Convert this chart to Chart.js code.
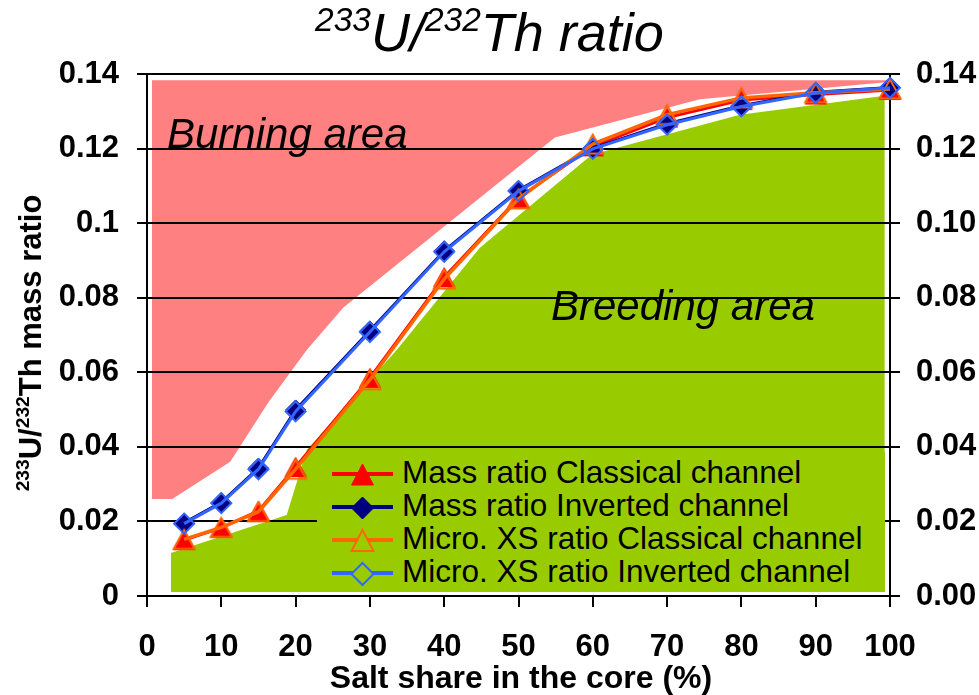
<!DOCTYPE html>
<html>
<head>
<meta charset="utf-8">
<script src="https://cdn.jsdelivr.net/npm/chart.js@4/dist/chart.umd.min.js"></script>
<style>
  html, body { margin: 0; padding: 0; background: #fff; }
  #wrap { position: relative; width: 979px; height: 695px; font-family: "Liberation Sans", Arial, sans-serif; color: #000; }
  #c { position: absolute; left: 0; top: 0; }
  .sup { font-size: 0.62em; position: relative; top: -0.6em; line-height: 0; }
  #title { position: absolute; left: 0; top: 5px; width: 979px; text-align: center; font-size: 54px; line-height: 54px; font-style: italic; white-space: nowrap; }
  #ytitle { position: absolute; left: -169px; top: 325px; width: 400px; height: 36px; line-height: 36px; text-align: center; font-size: 31px; font-weight: bold; transform: rotate(-90deg); white-space: nowrap; }
  #xtitle { position: absolute; left: 0; top: 662px; width: 1042px; text-align: center; font-size: 32px; line-height: 31px; font-weight: bold; white-space: nowrap; }
  .area { position: absolute; font-size: 42px; line-height: 42px; font-style: italic; white-space: nowrap; }
  #legend { position: absolute; left: 317px; top: 452px; width: 568px; height: 140px; background: #99CC00; }
  .row { position: absolute; left: 0; height: 33px; width: 568px; }
  .row svg { position: absolute; left: 15px; top: 0; }
  .row span { position: absolute; left: 85px; top: 0; font-size: 31.5px; line-height: 33px; white-space: nowrap; }
</style>
</head>
<body>
<div id="wrap">
  <canvas id="c" width="979" height="695"></canvas>
  <div id="title"><span class="sup">233</span>U/<span class="sup">232</span>Th ratio</div>
  <div id="ytitle"><span class="sup">233</span>U/<span class="sup">232</span>Th mass ratio</div>
  <div id="xtitle">Salt share in the core (%)</div>
  <div class="area" style="left:167px; top:113px;">Burning area</div>
  <div class="area" style="left:551px; top:285px;">Breeding area</div>
  <div id="legend"></div>
</div>
<script>
// Salt share in the core (%)
const salt = [5, 10, 15, 20, 30, 40, 50, 60, 70, 80, 90, 100];

// 233U/232Th mass ratio, classical and inverted channel
const massClassical = [0.0150, 0.0183, 0.0228, 0.0346, 0.0585, 0.0855, 0.1068, 0.1206, 0.1283, 0.1330, 0.1345, 0.1357];
const massInverted  = [0.0196, 0.0251, 0.0343, 0.0499, 0.0711, 0.0926, 0.1088, 0.1201, 0.1267, 0.1315, 0.1351, 0.1364];

// ratio derived from microscopic cross sections
const xsClassical = [0.0152, 0.0184, 0.0226, 0.0340, 0.0580, 0.0850, 0.1065, 0.1212, 0.1291, 0.1336, 0.1350, 0.1360];
const xsInverted  = [0.0194, 0.0249, 0.0340, 0.0495, 0.0708, 0.0923, 0.1086, 0.1199, 0.1264, 0.1313, 0.1349, 0.1363];

// burning region: lower edge, filled up to burningTop
const burningEdgeX = [0.67, 3.4, 11.2, 16.3, 21.5, 26.4, 54.9, 74.4, 99.1, 100];
const burningEdgeY = [0.0260, 0.0260, 0.0360, 0.0518, 0.0660, 0.0773, 0.1230, 0.1332, 0.1377, 0.1381];
const burningTop = 0.1383;

// breeding region: upper edge, filled down to breedingFloor
const breedingEdgeX = [3.2, 18.8, 21.5, 33.6, 44.8, 59.9, 79.8, 99.3];
const breedingEdgeY = [0.0115, 0.0217, 0.0392, 0.0660, 0.0934, 0.1184, 0.1291, 0.1342];
const breedingFloor = 0.0011;

// axes
const xTickValues = [0, 10, 20, 30, 40, 50, 60, 70, 80, 90, 100];
const yTickValues = [0, 0.02, 0.04, 0.06, 0.08, 0.10, 0.12, 0.14];
const leftTickLabels  = ['0', '0.02', '0.04', '0.06', '0.08', '0.1', '0.12', '0.14'];
const rightTickLabels = ['0.00', '0.02', '0.04', '0.06', '0.08', '0.10', '0.12', '0.14'];

const seriesNames = [
  'Mass ratio Classical channel',
  'Mass ratio Inverted channel',
  'Micro. XS ratio Classical channel',
  'Micro. XS ratio Inverted channel'
];

const RED = '#FF0000', NAVY = '#000080', ORANGE = '#FF6600', BLUE = '#3366FF';
const PINK = '#FF8080', GREEN = '#99CC00';
const FONT = '"Liberation Sans", Arial, sans-serif';

// triangle marker whose bounding box is centred on the data point
function triangleMarker(fill, stroke, lw) {
  const cv = document.createElement('canvas');
  cv.width = 26; cv.height = 24;
  const g = cv.getContext('2d');
  g.beginPath();
  g.moveTo(13, 2.5);
  g.lineTo(2.5, 21.5);
  g.lineTo(23.5, 21.5);
  g.closePath();
  g.lineJoin = 'miter';
  if (fill) { g.fillStyle = fill; g.fill(); }
  g.lineWidth = lw; g.strokeStyle = stroke; g.stroke();
  return cv;
}

const pts = (xs, ys) => xs.map((x, i) => ({ x: x, y: ys[i] }));

const datasets = [
  {
    label: 'burning', data: pts(burningEdgeX, burningEdgeY),
    borderWidth: 0, borderColor: 'rgba(0,0,0,0)', backgroundColor: PINK,
    pointRadius: 0, fill: { value: burningTop }, order: 10
  },
  {
    label: 'breeding', data: pts(breedingEdgeX, breedingEdgeY),
    borderWidth: 0, borderColor: 'rgba(0,0,0,0)', backgroundColor: GREEN,
    pointRadius: 0, fill: { value: breedingFloor }, order: 11
  },
  {
    label: seriesNames[0], data: pts(salt, massClassical),
    borderColor: RED, borderWidth: 3, fill: false, clip: false,
    pointStyle: triangleMarker(RED, RED, 1), pointRadius: 12, order: 4
  },
  {
    label: seriesNames[1], data: pts(salt, massInverted),
    borderColor: NAVY, borderWidth: 3, fill: false, clip: false,
    pointStyle: 'rectRot', pointRadius: 10, pointBackgroundColor: NAVY,
    pointBorderColor: NAVY, pointBorderWidth: 1, order: 3
  },
  {
    label: seriesNames[2], data: pts(salt, xsClassical),
    borderColor: ORANGE, borderWidth: 3.5, fill: false, clip: false,
    pointStyle: triangleMarker(null, ORANGE, 2), pointRadius: 12, order: 2
  },
  {
    label: seriesNames[3], data: pts(salt, xsInverted),
    borderColor: BLUE, borderWidth: 3, fill: false, clip: false,
    pointStyle: 'rectRot', pointRadius: 10, pointBackgroundColor: 'rgba(0,0,0,0)',
    pointBorderColor: BLUE, pointBorderWidth: 2, order: 1
  }
];

const tickFont = { family: FONT, size: 31, weight: 'bold' };

new Chart(document.getElementById('c'), {
  type: 'line',
  data: { datasets: datasets },
  options: {
    responsive: false,
    animation: false,
    devicePixelRatio: 1,
    layout: { padding: { top: 74, left: 0, right: 0, bottom: 0 } },
    elements: { line: { tension: 0 } },
    plugins: {
      legend: { display: false },
      title: { display: false },
      tooltip: { enabled: false },
      filler: { drawTime: 'beforeDraw' }
    },
    scales: {
      x: {
        type: 'linear', min: 0, max: 100,
        afterBuildTicks: s => { s.ticks = xTickValues.map(v => ({ value: v })); },
        afterFit: s => { s.height = 99; },
        ticks: { font: tickFont, color: '#000', padding: 22, maxRotation: 0, autoSkip: false,
                 callback: (v, i) => String(xTickValues[i]) },
        grid: { drawOnChartArea: false, drawTicks: true, tickLength: 11, color: '#000', lineWidth: 2 },
        border: { display: true, color: '#000', width: 2 }
      },
      y: {
        type: 'linear', position: 'left', min: 0, max: 0.14,
        afterBuildTicks: s => { s.ticks = yTickValues.map(v => ({ value: v })); },
        afterFit: s => { s.width = 147; },
        ticks: { font: tickFont, color: '#000', padding: 18, autoSkip: false,
                 callback: (v, i) => leftTickLabels[i] },
        grid: { drawOnChartArea: true, drawTicks: true, tickLength: 10, color: '#000', lineWidth: 2 },
        border: { display: true, color: '#000', width: 2 }
      },
      y2: {
        type: 'linear', position: 'right', min: 0, max: 0.14,
        afterBuildTicks: s => { s.ticks = yTickValues.map(v => ({ value: v })); },
        afterFit: s => { s.width = 89; },
        ticks: { font: tickFont, color: '#000', padding: 16, autoSkip: false,
                 callback: (v, i) => rightTickLabels[i] },
        grid: { drawOnChartArea: false, drawTicks: true, tickLength: 10, color: '#000', lineWidth: 2 },
        border: { display: true, color: '#000', width: 2 }
      }
    }
  }
});

// legend rows: line with the series marker, then the series name
const legendMarkers = [
  '<line x1="0" y1="18" x2="61" y2="18" stroke="' + RED + '" stroke-width="4"/>' +
  '<polygon points="30.5,8 19.5,29 41.5,29" fill="' + RED + '" stroke="' + RED + '" stroke-width="1"/>',
  '<line x1="0" y1="18" x2="61" y2="18" stroke="' + NAVY + '" stroke-width="4"/>' +
  '<polygon points="30.5,8 41.5,19 30.5,30 19.5,19" fill="' + NAVY + '" stroke="' + NAVY + '" stroke-width="1"/>',
  '<line x1="0" y1="18" x2="61" y2="18" stroke="' + ORANGE + '" stroke-width="4"/>' +
  '<polygon points="30.5,8 19.5,29 41.5,29" fill="' + GREEN + '" stroke="' + ORANGE + '" stroke-width="2"/>',
  '<line x1="0" y1="18" x2="61" y2="18" stroke="' + BLUE + '" stroke-width="4"/>' +
  '<polygon points="30.5,8 41.5,19 30.5,30 19.5,19" fill="' + GREEN + '" stroke="' + BLUE + '" stroke-width="2"/>'
];
const legend = document.getElementById('legend');
seriesNames.forEach((name, i) => {
  const row = document.createElement('div');
  row.className = 'row';
  row.style.top = (3.6 + 33 * i) + 'px';
  row.innerHTML = '<svg width="61" height="33" viewBox="0 0 61 33">' + legendMarkers[i] + '</svg>' +
                  '<span>' + name + '</span>';
  legend.appendChild(row);
});
</script>
</body>
</html>
